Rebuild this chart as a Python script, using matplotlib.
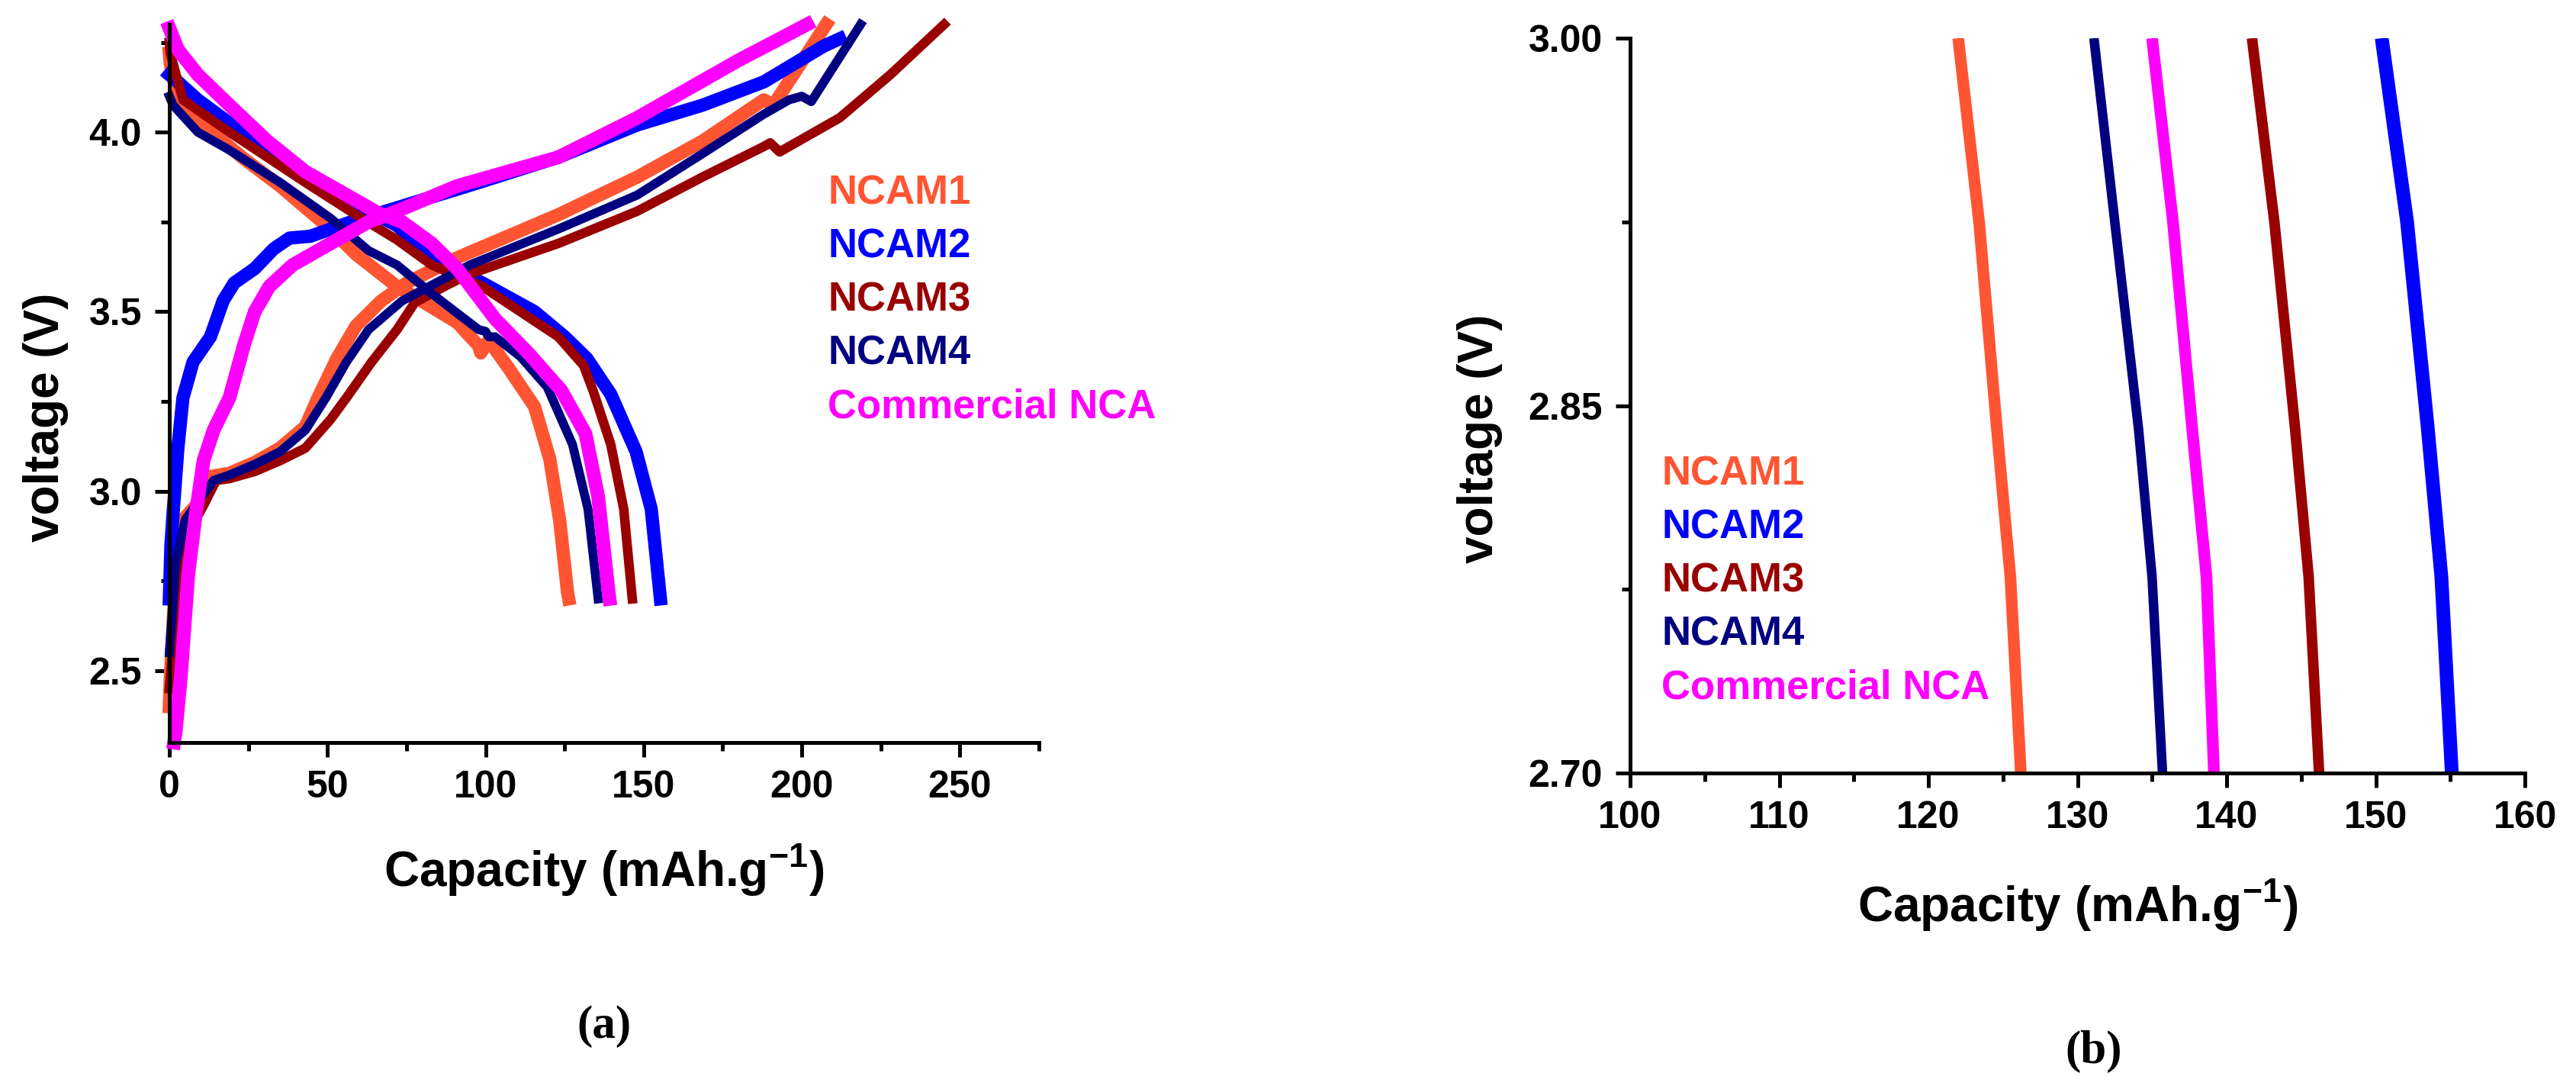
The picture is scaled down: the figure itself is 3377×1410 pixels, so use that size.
import numpy as np
import matplotlib
matplotlib.use("Agg")
import matplotlib.pyplot as plt
from matplotlib.ticker import MultipleLocator, FormatStrFormatter

plt.rcParams['font.family'] = ['Liberation Sans', 'DejaVu Sans']
plt.rcParams['font.weight'] = 'bold'
plt.rcParams['mathtext.fontset'] = 'custom'
plt.rcParams['mathtext.rm'] = 'Liberation Sans:bold'
plt.rcParams['mathtext.bf'] = 'Liberation Sans:bold'

names = ['NCAM1', 'NCAM2', 'NCAM3', 'NCAM4', 'Commercial NCA']
colors = ['#FF5533', '#0000FF', '#990000', '#000080', '#FF00FF']

# ---- panel (a): charge curves (capacity, voltage) ----
ch1_cap = [0, 0.3, 2, 4.3, 8.4, 12.3, 19, 27, 35, 43, 47, 53, 59, 67, 75, 91, 123, 148, 168.6, 188, 191, 207.7]
ch1_v = [2.40, 2.48, 2.77, 2.92, 2.96, 3.04, 3.05, 3.08, 3.12, 3.18, 3.26, 3.37, 3.46, 3.53, 3.58, 3.65, 3.77, 3.875, 3.975, 4.09, 4.075, 4.30]

ch2_cap = [0, 0.5, 1.2, 2.7, 4.3, 7.5, 13, 17, 20.5, 27, 33, 38, 44.6, 51, 59, 63, 98, 123, 148, 168.6, 188, 207, 212]
ch2_v = [2.70, 2.85, 2.94, 3.12, 3.26, 3.36, 3.43, 3.53, 3.58, 3.62, 3.675, 3.705, 3.71, 3.73, 3.755, 3.765, 3.86, 3.93, 4.02, 4.075, 4.14, 4.24, 4.26]

ch3_cap = [0, 3, 7, 10.8, 14.8, 19, 27, 35, 43, 51, 56, 64, 72, 77.6, 88, 95, 123, 148, 168.6, 188, 190, 193, 212, 228, 245]
ch3_v = [2.45, 2.75, 2.90, 2.96, 3.03, 3.035, 3.055, 3.085, 3.12, 3.20, 3.26, 3.36, 3.45, 3.525, 3.575, 3.605, 3.69, 3.78, 3.875, 3.96, 3.97, 3.945, 4.04, 4.16, 4.30]

ch4_cap = [0, 2, 5, 9, 14, 19, 27, 35, 43, 49.5, 56, 63, 73.6, 95, 123, 148, 168.6, 188, 196, 200, 203, 218.6]
ch4_v = [2.55, 2.80, 2.92, 2.97, 3.03, 3.045, 3.075, 3.11, 3.17, 3.26, 3.36, 3.45, 3.53, 3.63, 3.73, 3.825, 3.94, 4.05, 4.09, 4.10, 4.085, 4.30]

ch5_cap = [1.5, 2, 3.6, 6, 8.4, 10.8, 14, 19, 23.7, 27, 31.6, 39, 51, 63, 72, 91, 123, 148, 164, 180, 201.7]
ch5_v = [2.30, 2.33, 2.48, 2.77, 2.94, 3.085, 3.17, 3.26, 3.41, 3.50, 3.57, 3.63, 3.69, 3.75, 3.78, 3.85, 3.93, 4.04, 4.12, 4.20, 4.30]

# ---- panel (a): discharge curves ----
dc1_cap = [0, 0.3, 2.7, 10.8, 23, 35, 51, 59, 72, 75, 91, 97.8, 98.5, 101, 107.5, 115.5, 120.3, 123.5, 125.9, 126.3]
dc1_v = [4.22, 4.19, 4.09, 4.02, 3.93, 3.85, 3.73, 3.66, 3.57, 3.555, 3.47, 3.405, 3.385, 3.42, 3.34, 3.235, 3.09, 2.915, 2.72, 2.70]

dc2_cap = [0, 2.7, 9, 19, 31, 43, 59, 72, 83, 99, 115.5, 125, 132, 139.6, 147.6, 152.4, 155.3]
dc2_v = [4.16, 4.14, 4.09, 4.025, 3.95, 3.89, 3.80, 3.74, 3.65, 3.58, 3.50, 3.43, 3.37, 3.27, 3.11, 2.95, 2.70]

dc3_cap = [0, 0.3, 4.3, 19, 31, 43, 59, 72, 83, 99, 123, 131, 134, 139.6, 143.7, 146.4]
dc3_v = [4.25, 4.22, 4.09, 4.00, 3.93, 3.86, 3.77, 3.70, 3.63, 3.57, 3.43, 3.35, 3.28, 3.13, 2.95, 2.70]

dc4_cap = [0, 1.2, 9, 19, 35, 51, 63, 72, 83, 97.8, 100, 101, 103, 111, 119.5, 127.5, 132.4, 135.6]
dc4_v = [4.10, 4.075, 4.00, 3.95, 3.86, 3.76, 3.67, 3.63, 3.55, 3.45, 3.445, 3.43, 3.43, 3.375, 3.29, 3.13, 2.95, 2.70]

dc5_cap = [0, 2.7, 9, 19, 31, 43, 59, 66, 73.6, 83, 91, 103, 114, 124, 131.6, 135.6, 138.9, 139.2]
dc5_v = [4.29, 4.23, 4.16, 4.075, 3.975, 3.89, 3.81, 3.775, 3.75, 3.69, 3.62, 3.48, 3.38, 3.28, 3.16, 2.985, 2.72, 2.70]

charge = [(ch1_cap, ch1_v), (ch2_cap, ch2_v), (ch3_cap, ch3_v), (ch4_cap, ch4_v), (ch5_cap, ch5_v)]
discharge = [(dc1_cap, dc1_v), (dc2_cap, dc2_v), (dc3_cap, dc3_v), (dc4_cap, dc4_v), (dc5_cap, dc5_v)]

# ---- panel (b): end of discharge, zoomed ----
zoom_v = [3.00, 2.925, 2.84, 2.78, 2.70]
zoom_cap = [
    [122.0, 123.4, 124.6, 125.5, 126.2],
    [150.4, 152.1, 153.5, 154.4, 155.1],
    [141.7, 143.2, 144.6, 145.5, 146.2],
    [131.1, 132.5, 134.1, 135.0, 135.7],
    [135.0, 136.4, 137.7, 138.65, 139.15],
]

W, H = 3377, 1410
fig = plt.figure(figsize=(W / 100, H / 100), dpi=100)
fig.patch.set_facecolor('white')

ax1 = fig.add_axes([222 / W, 1 - 973 / H, (1362 - 222) / W, (973 - 32) / H])
ax2 = fig.add_axes([2137 / W, 1 - 1013 / H, (3310 - 2137) / W, (1013 - 50) / H])

lw_a = [12.5, 12.5, 9, 8.5, 13]
for i in range(5):
    ax1.plot(charge[i][0], charge[i][1], color=colors[i], lw=lw_a[i], clip_on=False,
             solid_joinstyle='round')
    ax1.plot(discharge[i][0], discharge[i][1], color=colors[i], lw=lw_a[i], clip_on=False,
             solid_joinstyle='round')

lw_b = [11, 13, 10, 9, 11]
for i in range(5):
    ax2.plot(zoom_cap[i], zoom_v, color=colors[i], lw=lw_b[i], solid_capstyle='butt')

for ax in (ax1, ax2):
    for s in ('top', 'right'):
        ax.spines[s].set_visible(False)
    for s in ('left', 'bottom'):
        ax.spines[s].set_linewidth(3.6)
    ax.tick_params(which='major', direction='out', length=14, width=3.6, labelsize=36, pad=12)
    ax.tick_params(which='minor', direction='out', length=8, width=3.6)
    ax.set_facecolor('white')

ax1.set_xlim(0, 275)
ax1.set_ylim(2.3, 4.3)
ax1.xaxis.set_major_locator(MultipleLocator(50))
ax1.xaxis.set_minor_locator(MultipleLocator(25))
ax1.yaxis.set_major_locator(MultipleLocator(0.5))
ax1.yaxis.set_minor_locator(MultipleLocator(0.25))
ax1.yaxis.set_major_formatter(FormatStrFormatter('%.1f'))

ax2.set_xlim(100, 160)
ax2.set_ylim(2.70, 3.00)
ax2.xaxis.set_major_locator(MultipleLocator(10))
ax2.xaxis.set_minor_locator(MultipleLocator(5))
ax2.yaxis.set_major_locator(MultipleLocator(0.15))
ax2.yaxis.set_minor_locator(MultipleLocator(0.075))
ax2.yaxis.set_major_formatter(FormatStrFormatter('%.2f'))

xlab = r'Capacity (mAh.g$^{-1}$)'
ax1.set_xlabel(xlab, fontsize=46, fontweight='bold', va='center')
ax1.xaxis.set_label_coords(0.5, (973 - 1140) / 941)
ax1.set_ylabel('voltage (V)', fontsize=46, fontweight='bold', va='center')
ax1.yaxis.set_label_coords((60 - 222) / 1140, 1 - (547 - 32) / 941)

ax2.set_xlabel(xlab, fontsize=46, fontweight='bold', va='center')
ax2.xaxis.set_label_coords(0.5, (1013 - 1185) / 963)
ax2.set_ylabel('voltage (V)', fontsize=46, fontweight='bold', va='center')
ax2.yaxis.set_label_coords((1940 - 2137) / 1173, 1 - (575 - 50) / 963)

# colored text legends
for i, n in enumerate(names):
    fig.text(1085 / W, 1 - (268 + 70 * i) / H, n, color=colors[i], fontsize=38,
             fontweight='bold', va='baseline', ha='left')
    fig.text(2178 / W, 1 - (635 + 70 * i) / H, n, color=colors[i], fontsize=38,
             fontweight='bold', va='baseline', ha='left')

fig.text(792 / W, 1 - 1345 / H, '(a)', fontsize=44, family='Liberation Serif',
         fontweight='bold', ha='center', va='center')
fig.text(2745 / W, 1 - 1378 / H, '(b)', fontsize=44, family='Liberation Serif',
         fontweight='bold', ha='center', va='center')

fig.savefig('out.png', dpi=100, facecolor='white')
